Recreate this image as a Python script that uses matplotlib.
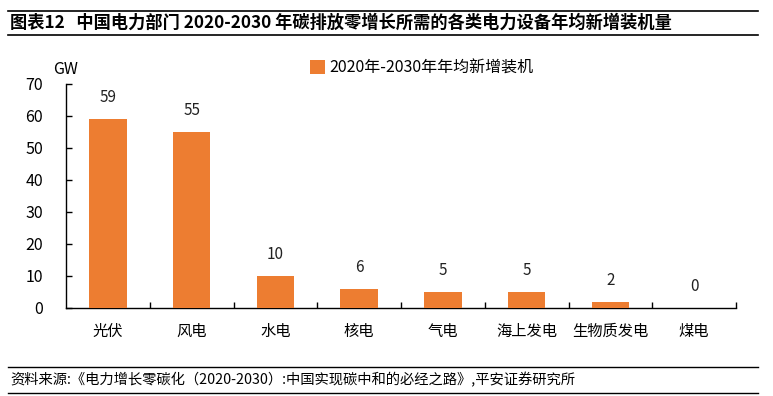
import matplotlib
matplotlib.use("Agg")
import matplotlib.pyplot as plt
from matplotlib.lines import Line2D
import numpy as np

plt.rcParams['font.family'] = ['Noto Sans CJK SC', 'DejaVu Sans']

categories = ['光伏', '风电', '水电', '核电', '气电', '海上发电', '生物质发电', '煤电']
values = [59, 55, 10, 6, 5, 5, 2, 0]
series_name = '2020年-2030年年均新增装机'
yticks = [0, 10, 20, 30, 40, 50, 60, 70]
title = '图表12   中国电力部门 2020-2030 年碳排放零增长所需的各类电力设备年均新增装机量'
source = '资料来源:《电力增长零碳化（2020-2030）:中国实现碳中和的必经之路》,平安证券研究所'

color = '#ED7D31'

fig = plt.figure(figsize=(7.73, 3.96), dpi=100)
ax = fig.add_axes([66/773, 1-308/396, (736-66)/773, (308-84)/396])

x = np.arange(len(categories))
bars = ax.bar(x, values, width=0.45, color=color, label=series_name, zorder=3)
for xi, v in zip(x, values):
    ax.text(xi, v + 4.0, f'{v}', ha='center', va='bottom', fontsize=11, color='#222222')

ax.set_xlim(-0.5, len(categories) - 0.5)
ax.set_ylim(0, 70)
ax.set_yticks(yticks)
ax.set_yticklabels([str(t) for t in yticks], fontsize=11.5)
ax.set_xticks(x)
ax.set_xticklabels(categories, fontsize=11)
ax.tick_params(axis='x', length=0, pad=11)
ax.set_xticks(np.arange(0.5, len(categories) - 0.5 + 0.01, 1.0), minor=True)
ax.tick_params(axis='x', which='minor', direction='in', length=4, width=1, color='black')
ax.tick_params(axis='y', direction='in', length=4, width=1, pad=16.5)
for s in ['top', 'right']:
    ax.spines[s].set_visible(False)
ax.spines['left'].set_linewidth(1)
ax.spines['bottom'].set_linewidth(1)

ax.text(0.0, 1.025, 'GW', transform=ax.transAxes, ha='center', va='bottom', fontsize=11.5)

leg = fig.legend(handles=[bars], labels=[series_name], loc='center', bbox_to_anchor=(422/773, 1-68/396),
                 frameon=False, fontsize=11.5, handlelength=0.9, handleheight=0.9, handletextpad=0.3)

# title and lines
fig.add_artist(Line2D([8/773, 758/773], [1-11/396, 1-11/396], color='black', lw=1.2))
fig.add_artist(Line2D([8/773, 758/773], [1-35/396, 1-35/396], color='black', lw=1.2))
fig.text(10/773, 1-23/396, title, fontsize=12.4, fontweight='bold', ha='left', va='center')

fig.add_artist(Line2D([8/773, 758/773], [1-367/396, 1-367/396], color='black', lw=1.0))
fig.add_artist(Line2D([8/773, 758/773], [1-393/396, 1-393/396], color='black', lw=1.0))
fig.text(10/773, 1-380/396, source, fontsize=10.3, style='italic', ha='left', va='center')

fig.savefig('out.png', dpi=100)
